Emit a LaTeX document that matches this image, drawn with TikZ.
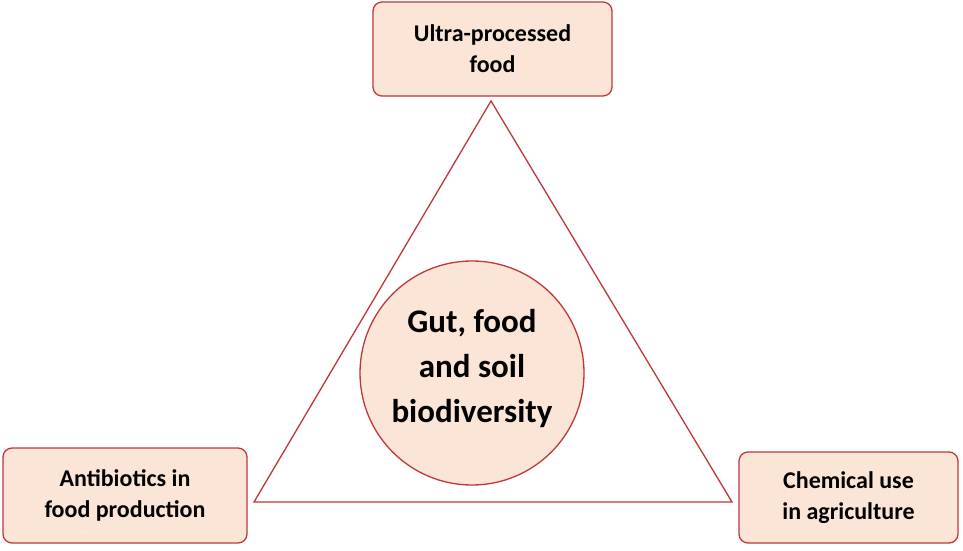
\documentclass[tikz,border=0pt]{standalone}
\usepackage{fontspec}
\setmainfont{Carlito}
\begin{document}
\definecolor{pf}{HTML}{FBE5D6}
\definecolor{rd}{HTML}{C0373A}
\begin{tikzpicture}[x=1pt,y=-1pt,
  box/.style={draw=rd,fill=pf,line width=1.3pt,rounded corners=9pt,align=center,font=\fontsize{24}{31}\selectfont\bfseries,inner sep=0pt}]
\useasboundingbox (0,0) rectangle (963,551);
\fill[white] (0,0) rectangle (963,551);
\coordinate (A) at (491,101);
\coordinate (B) at (254,502);
\coordinate (C) at (732,502);
\draw[rd,line width=1.3pt] (A) -- (B) -- (C) -- cycle;
\node[circle,draw=rd,fill=pf,line width=1.3pt,minimum size=224pt] (g) at (472,373) {};
\node[align=center,font=\fontsize{33}{45}\selectfont\bfseries] (gt) at (472,369) {Gut, food\\and soil\\biodiversity};
\node[box,minimum width=239pt,minimum height=94pt] (u) at (492.5,49) {Ultra-processed\\food};
\node[box,minimum width=244pt,minimum height=95pt] (a) at (125,495.5) {Antibiotics in\\food production};
\node[box,minimum width=219pt,minimum height=91pt] (c) at (848.5,497.5) {Chemical use\\in agriculture};
\end{tikzpicture}
\end{document}
